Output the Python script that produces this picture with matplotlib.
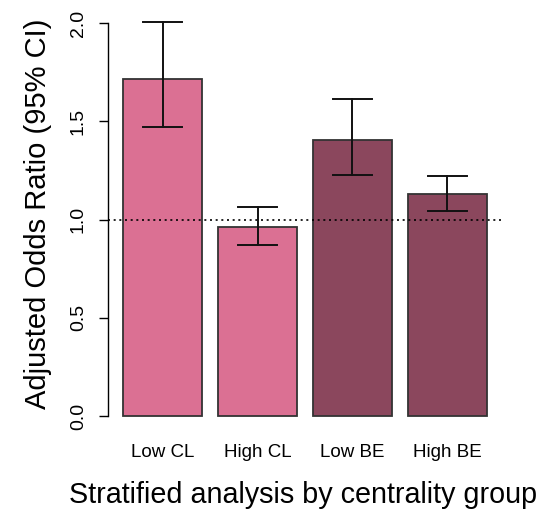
import matplotlib
matplotlib.use("Agg")
import matplotlib.pyplot as plt

categories = ["Low CL", "High CL", "Low BE", "High BE"]
odds_ratio = [1.715, 0.962, 1.406, 1.130]
ci_lower = [1.469, 0.872, 1.226, 1.045]
ci_upper = [2.007, 1.062, 1.613, 1.221]
bar_colors = ["#DB7093", "#DB7093", "#8B475D", "#8B475D"]
yticks = [0.0, 0.5, 1.0, 1.5, 2.0]
ytick_labels = ["0.0", "0.5", "1.0", "1.5", "2.0"]

plt.rcParams['font.family'] = ['Liberation Sans', 'DejaVu Sans']

fig = plt.figure(figsize=(5.40, 5.14), dpi=100)
ax = fig.add_axes([108.4/540, 1-431.7/514, (501.6-108.4)/540, (431.7-7.3)/514])

x = [0.7 + 1.2*i for i in range(len(categories))]
ax.bar(x, odds_ratio, width=1.0, color=bar_colors, edgecolor="#333333", linewidth=1.3, zorder=2)

ax.axhline(1.0, color="black", linestyle=(0, (1.2, 2.2)), linewidth=1.2, zorder=3)

for xi, lo, hi in zip(x, ci_lower, ci_upper):
    ax.plot([xi, xi], [lo, hi], color="#111111", linewidth=1.4, zorder=4)
    ax.plot([xi-0.25, xi+0.25], [lo, lo], color="#111111", linewidth=1.4, zorder=4)
    ax.plot([xi-0.25, xi+0.25], [hi, hi], color="#111111", linewidth=1.4, zorder=4)

ax.set_xlim(0.016, 4.984)
ax.set_ylim(-0.08, 2.08)

for s in ["top", "right", "bottom"]:
    ax.spines[s].set_visible(False)
ax.spines["left"].set_bounds(0, 2)
ax.spines["left"].set_linewidth(1.0)

ax.set_yticks(yticks)
ax.set_yticklabels(ytick_labels, rotation=90, va="center", fontsize=14)
ax.tick_params(axis="y", length=6.5, width=1.0, pad=9)

ax.set_xticks(x)
ax.set_xticklabels(categories, fontsize=13.5)
ax.tick_params(axis="x", length=0, pad=9)

fig.text(38/540, 1-214/514, "Adjusted Odds Ratio (95% CI)", rotation=90,
         ha="center", va="center", fontsize=21)
fig.text(303.5/540, 1-495/514, "Stratified analysis by centrality group",
         ha="center", va="center", fontsize=20.7)

fig.savefig("out.png", dpi=100)
